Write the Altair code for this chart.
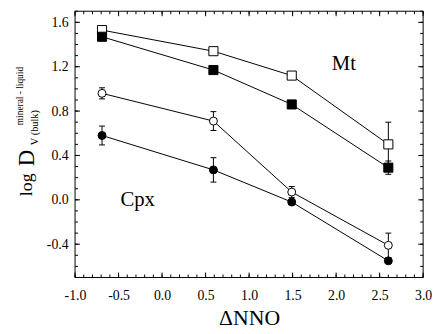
import altair as alt
import pandas as pd

# ---- data ----
x_vals = [-0.69, 0.59, 1.49, 2.60]
mt_open = [1.53, 1.34, 1.12, 0.50]
mt_open_err = [0.0, 0.0, 0.02, 0.20]
mt_fill = [1.47, 1.17, 0.86, 0.29]
mt_fill_err = [0.0, 0.03, 0.0, 0.06]
cpx_open = [0.96, 0.71, 0.07, -0.41]
cpx_open_err = [0.05, 0.085, 0.05, 0.11]
cpx_fill = [0.58, 0.27, -0.02, -0.55]
cpx_fill_err = [0.085, 0.11, 0.0, 0.0]

series_names = ["Mt open", "Mt filled", "Cpx open", "Cpx filled"]
series_y = [mt_open, mt_fill, cpx_open, cpx_fill]
series_err = [mt_open_err, mt_fill_err, cpx_open_err, cpx_fill_err]
series_shape = ["square", "square", "circle", "circle"]
series_fill = ["white", "black", "white", "black"]

label_text = ["Mt", "Cpx"]
label_x = [2.09, -0.28]
label_y = [1.22, 0.0]

x_major = [-1.0, -0.5, 0.0, 0.5, 1.0, 1.5, 2.0, 2.5, 3.0]
x_minor = [round(-1.0 + 0.1 * i, 1) for i in range(41)]
y_major = [-0.4, 0.0, 0.4, 0.8, 1.2, 1.6]
y_minor = [round(-0.7 + 0.1 * i, 1) for i in range(25)]

X_MIN, X_MAX = -1.0, 3.0
Y_MIN, Y_MAX = -0.7, 1.7

rows = []
for name, ys, es, sh, fl in zip(series_names, series_y, series_err, series_shape, series_fill):
    for i, (xv, yv, ev) in enumerate(zip(x_vals, ys, es)):
        rows.append(dict(series=name, order=i, x=xv, y=yv, err=ev,
                         lo=yv - ev, hi=yv + ev, shape=sh, fill=fl))
df = pd.DataFrame(rows)
df_err = df[df.err > 0]

FONT = "Liberation Serif"
W, H = 353, 270

xs = alt.Scale(domain=[X_MIN, X_MAX], nice=False, zero=False)
ys_ = alt.Scale(domain=[Y_MIN, Y_MAX], nice=False, zero=False)
lbl = "replace(format(datum.value, '.1f'), '\u2212', '-')"
xaxis = alt.Axis(values=x_major, labelExpr=lbl, title="\u0394NNO", ticks=False,
                 tickSize=0, domain=False, grid=False, labelPadding=11,
                 labelFlush=False, labelOverlap=False,
                 labelFont=FONT, labelFontSize=14, titleFont=FONT, titleFontSize=22,
                 titleFontWeight="normal", titlePadding=6, labelColor="black",
                 titleColor="black")
yaxis = alt.Axis(values=y_major, labelExpr=lbl, title=None, ticks=False,
                 tickSize=0, domain=False, grid=False, labelPadding=7,
                 labelFlush=False, labelOverlap=False,
                 labelFont=FONT, labelFontSize=14, labelColor="black")


def X(f):
    return alt.X(f, type="quantitative", scale=xs, axis=xaxis)


def Y(f):
    return alt.Y(f, type="quantitative", scale=ys_, axis=yaxis)


# frame and inward ticks, drawn from the tick arrays through the scales
frame_df = pd.DataFrame(dict(x1=[X_MIN, X_MIN, X_MIN, X_MAX], x2=[X_MAX, X_MAX, X_MIN, X_MAX],
                             y1=[Y_MIN, Y_MAX, Y_MIN, Y_MIN], y2=[Y_MIN, Y_MAX, Y_MAX, Y_MAX]))
frame = alt.Chart(frame_df).mark_rule(color="black", strokeWidth=1).encode(
    x=X("x1"), x2="x2", y=Y("y1"), y2="y2")


def edge_ticks(vals, length, axis_name):
    d = pd.DataFrame(dict(v=vals, xlo=X_MIN, xhi=X_MAX, ylo=Y_MIN, yhi=Y_MAX))
    c = alt.Chart(d)
    if axis_name == "x":
        bot = c.mark_rule(strokeWidth=1, color="black", y2Offset=-length).encode(
            x=X("v"), y=Y("ylo"), y2="ylo")
        top = c.mark_rule(strokeWidth=1, color="black", y2Offset=length).encode(
            x=X("v"), y=Y("yhi"), y2="yhi")
        return [bot, top]
    left = c.mark_rule(strokeWidth=1, color="black", x2Offset=length).encode(
        x=X("xlo"), x2="xlo", y=Y("v"))
    right = c.mark_rule(strokeWidth=1, color="black", x2Offset=-length).encode(
        x=X("xhi"), x2="xhi", y=Y("v"))
    return [left, right]


tick_layers = (edge_ticks(x_minor, 3, "x") + edge_ticks(x_major, 5, "x") +
               edge_ticks(y_minor, 3, "y") + edge_ticks(y_major, 5, "y"))

base = alt.Chart(df)

lines = base.mark_line(color="black", strokeWidth=1).encode(
    x=X("x"), y=Y("y"), detail="series:N", order="order:Q")

err_rule = alt.Chart(df_err).mark_rule(color="black", strokeWidth=1).encode(
    x=X("x"), y=Y("lo"), y2="hi")
cap_lo = alt.Chart(df_err).mark_rule(color="black", strokeWidth=1,
                                     xOffset=-3, x2Offset=3).encode(
    x=X("x"), x2="x", y=Y("lo"))
cap_hi = alt.Chart(df_err).mark_rule(color="black", strokeWidth=1,
                                     xOffset=-3, x2Offset=3).encode(
    x=X("x"), x2="x", y=Y("hi"))

points = base.mark_point(filled=True, stroke="black", strokeWidth=1, opacity=1).encode(
    x=X("x"), y=Y("y"),
    shape=alt.Shape("shape:N", scale=alt.Scale(domain=["square", "circle"],
                                               range=["square", "circle"]), legend=None),
    fill=alt.Fill("fill:N", scale=alt.Scale(domain=["black", "white"],
                                            range=["black", "white"]), legend=None),
    size=alt.Size("shape:N", scale=alt.Scale(domain=["square", "circle"],
                                             range=[85, 65]), legend=None),
)

labels = alt.Chart(pd.DataFrame(dict(t=label_text, x=label_x, y=label_y))).mark_text(
    font=FONT, fontSize=21, color="black", align="center", baseline="middle").encode(
    x=X("x"), y=Y("y"), text="t:N")

one = pd.DataFrame({"a": [0]})
t_log = alt.Chart(one).mark_text(text="log", font=FONT, fontSize=18, angle=270,
                                 align="center", baseline="middle", color="black").encode(
    x=alt.value(-49), y=alt.value(176))
t_D = alt.Chart(one).mark_text(text="D", font=FONT, fontSize=23, angle=270,
                               align="center", baseline="middle", color="black").encode(
    x=alt.value(-49), y=alt.value(149))
t_sup = alt.Chart(one).mark_text(text="mineral - liquid", font=FONT, fontSize=9.5, angle=270,
                                 align="center", baseline="middle", color="black").encode(
    x=alt.value(-56), y=alt.value(86))
t_sub = alt.Chart(one).mark_text(text="V (bulk)", font=FONT, fontSize=10.5, angle=270,
                                 align="center", baseline="middle", color="black").encode(
    x=alt.value(-41), y=alt.value(118))

chart = alt.layer(
    frame, *tick_layers, lines, err_rule, cap_lo, cap_hi, points, labels,
    t_log, t_D, t_sup, t_sub
).properties(
    width=W, height=H,
    background="white",
    autosize=alt.AutoSizeParams(type="none"),
    padding={"left": 68, "top": 1, "right": 10, "bottom": 54},
).configure_view(stroke=None)

chart.save("out.html", embed_options={"renderer": "svg", "actions": False})
